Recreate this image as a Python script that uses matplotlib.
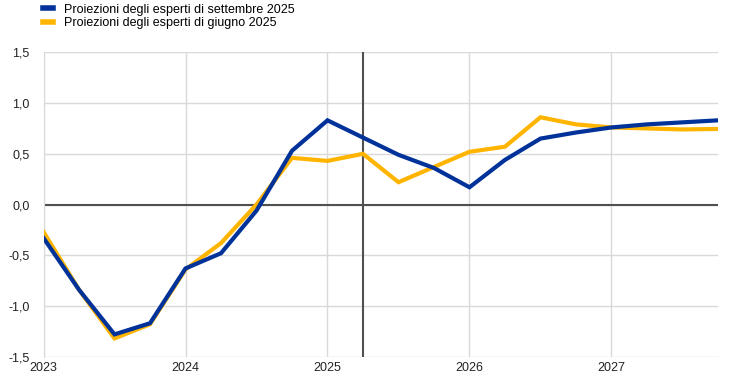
import matplotlib
matplotlib.use("Agg")
import matplotlib.pyplot as plt
from matplotlib.ticker import FuncFormatter

plt.rcParams['font.family'] = ['Liberation Sans', 'DejaVu Sans']

# quarterly points, 2023Q1 .. 2027Q4
years = [2023, 2024, 2025, 2026, 2027]
quarters = [y + q * 0.25 for y in years for q in range(4)]

settembre = [-0.33, -0.84, -1.28, -1.17, -0.63, -0.48, -0.06, 0.53,
             0.83, 0.66, 0.49, 0.36, 0.17, 0.44, 0.65, 0.71,
             0.76, 0.79, 0.81, 0.83]
giugno = [-0.27, -0.84, -1.32, -1.18, -0.64, -0.38, 0.0, 0.46,
          0.43, 0.50, 0.22, 0.37, 0.52, 0.57, 0.86, 0.79,
          0.76, 0.75, 0.74, 0.745]

label_sett = "Proiezioni degli esperti di settembre 2025"
label_giu = "Proiezioni degli esperti di giugno 2025"
cutoff = 2025.25

blue = "#003299"
yellow = "#FFB400"

fig = plt.figure(figsize=(7.44, 3.85), dpi=100)
ax = fig.add_axes([0.0585, 0.0735, 0.9065, 0.7905])

ax.plot(quarters, giugno, color=yellow, lw=3.0, label=label_giu, solid_joinstyle='miter', zorder=3)
ax.plot(quarters, settembre, color=blue, lw=3.0, label=label_sett, solid_joinstyle='miter', zorder=4)

ax.axhline(0, color="#505050", lw=1.5, zorder=2)
ax.axvline(cutoff, color="#505050", lw=1.5, zorder=2)

ax.set_xlim(2023, 2027.75)
ax.set_ylim(-1.5, 1.5)
ax.set_xticks(years)
ax.set_yticks([-1.5, -1.0, -0.5, 0.0, 0.5, 1.0, 1.5])
ax.yaxis.set_major_formatter(FuncFormatter(lambda v, p: f"{v:.1f}".replace(".", ",")))
ax.grid(True, color="#d9d9d9", lw=1.0, zorder=0)
ax.tick_params(length=0, labelsize=9, colors="#222222")
ax.tick_params(axis='y', pad=10)
ax.tick_params(axis='x', pad=4)
for s in ["top", "right", "bottom"]:
    ax.spines[s].set_visible(False)
ax.spines["left"].set_color("#d9d9d9")

handles, labels = ax.get_legend_handles_labels()
leg = fig.legend(handles[::-1], labels[::-1], loc="upper left", bbox_to_anchor=(0.043, 1.02),
                 frameon=False, fontsize=9, handlelength=0.8, handletextpad=0.9,
                 labelspacing=0.15)
for h in leg.get_lines():
    h.set_linewidth(4.0)

fig.savefig("out.png", dpi=100)
